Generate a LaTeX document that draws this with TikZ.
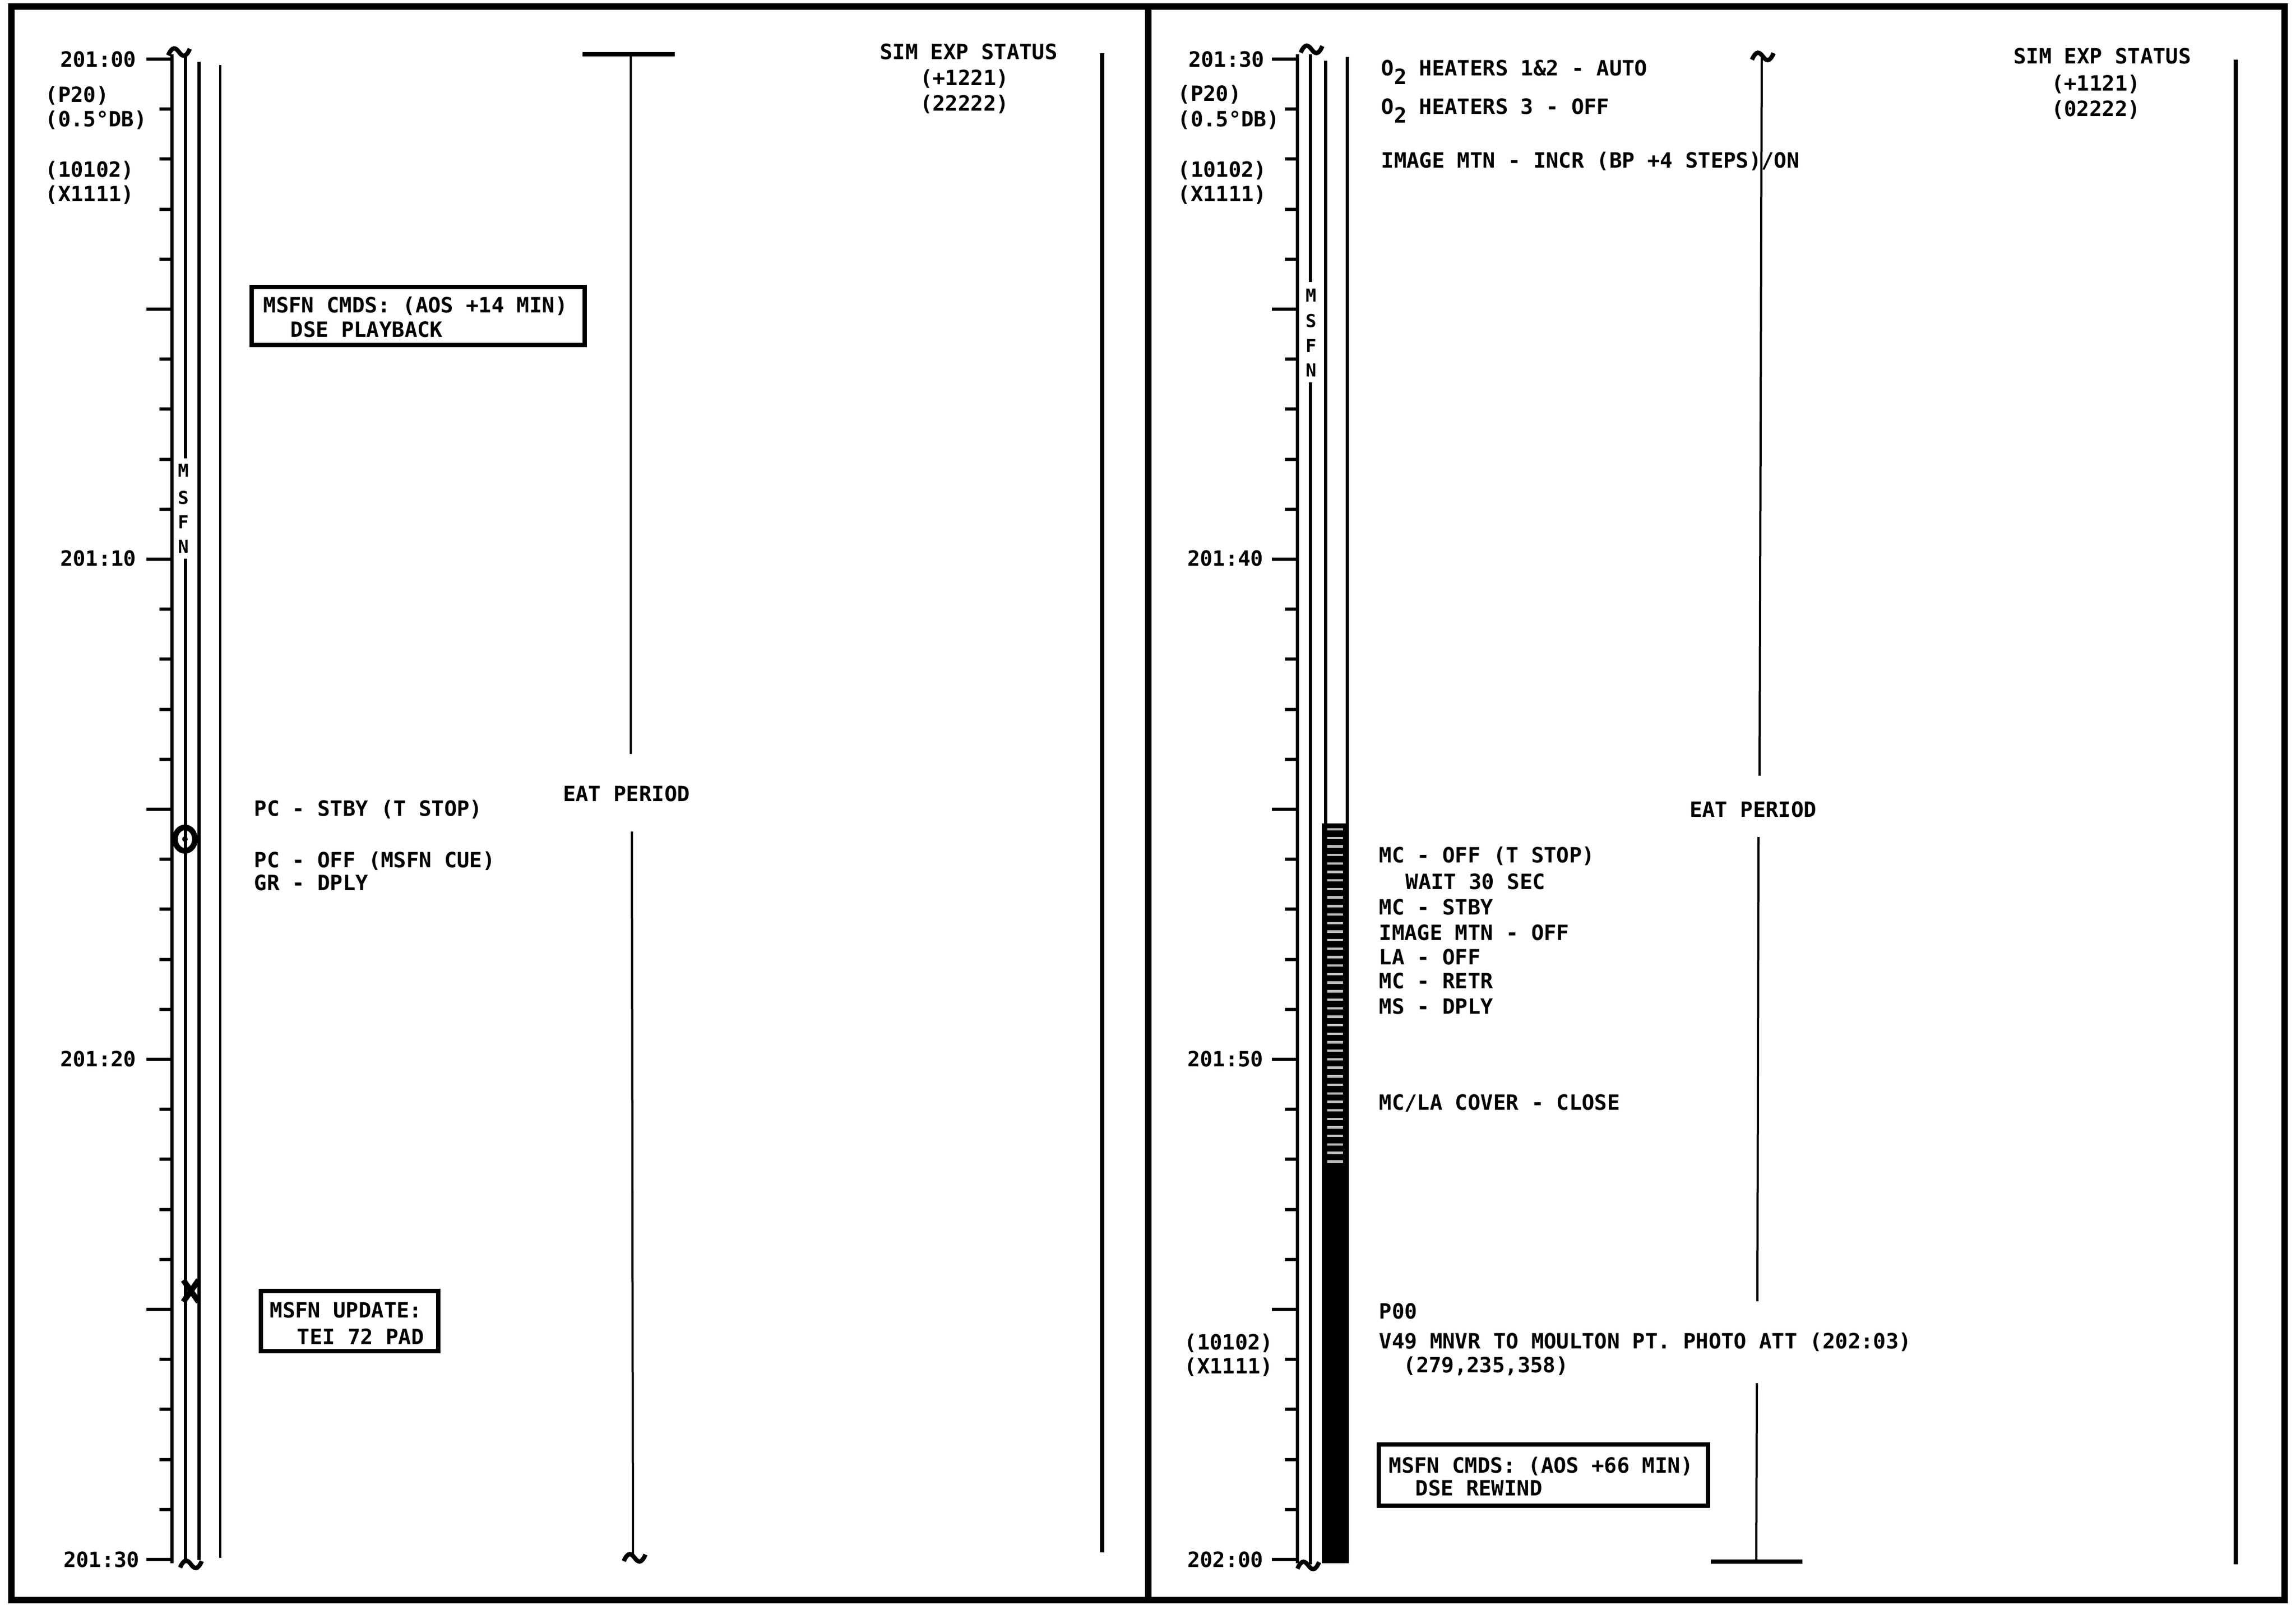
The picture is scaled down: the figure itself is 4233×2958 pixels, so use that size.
\documentclass[tikz,border=0pt]{standalone}
\usepackage{fontspec}
\newfontfamily\tlfont{DejaVu Sans Mono}
\begin{document}
\begin{tikzpicture}[x=0.25pt,y=-0.25pt,
  txt/.style={font=\tlfont\bfseries\fontsize{9.7}{11}\selectfont, inner sep=0pt, anchor=base west},
  txtr/.style={txt, anchor=base east},
  txtc/.style={txt, anchor=base},
  sml/.style={font=\tlfont\bfseries\fontsize{8.2}{8}\selectfont, inner sep=0pt, anchor=center},
  tline/.style={line width=1.5pt},
  thinl/.style={line width=1pt},
  tickl/.style={line width=1.5pt},
  boxl/.style={line width=2pt},
  framel/.style={line width=3pt},
  brk/.pic={\draw[line width=2pt] (-20,6) .. controls (-12,-12) and (-6,-8) .. (0,0) .. controls (6,8) and (12,12) .. (20,-6);}
]
\useasboundingbox (0,0) rectangle (4233,2958);
\fill[white] (0,0) rectangle (4233,2958);
% frame
\draw[framel] (21,12) rectangle (4212,2950);
\draw[framel] (2117,12) -- (2117,2950);

% ---------------- LEFT PANEL ----------------
% ticks
\foreach \k in {0,...,30}{
  \pgfmathsetmacro\yy{109+92.2*\k}
  \pgfmathsetmacro\xs{mod(\k,5)==0 ? 270 : 294}
  \draw[tickl] (\xs,\yy) -- (317,\yy);
}
\draw[tline] (317,100) -- (317,2882);
\draw[tline] (342,100) -- (342,845) (342,1030) -- (342,2882);
\draw[tline] (367,114) -- (367,2876);
\draw[thinl] (406,120) -- (406,2872);
\pic at (330,96) {brk};
\pic at (352,2884) {brk};
\node[sml] (lm1) at (338,868) {M};
\node[sml] (lm2) at (338,918) {S};
\node[sml] (lm3) at (338,963) {F};
\node[sml] (lm4) at (338,1008) {N};
% circle and cross marks
\draw[line width=2.6pt] (341,1547) ellipse [x radius=4.6pt, y radius=5.4pt];
\fill (341,1547) circle [radius=1.3pt];
\draw[line width=2.6pt] (338,2360) -- (366,2400) (366,2360) -- (338,2400);
% time labels
\node[txtr] (t1) at (252,123) {201:00};
\node[txtr] (t2) at (252,1043) {201:10};
\node[txtr] (t3) at (252,1966) {201:20};
\node[txtr] (t4) at (258,2889) {201:30};
\node[txt] (p1) at (83,188) {(P20)};
\node[txt] (p2) at (83,233) {(0.5°DB)};
\node[txt] (p3) at (83,326) {(10102)};
\node[txt] (p4) at (83,371) {(X1111)};
% box 1
\draw[boxl] (464,529) rectangle (1078,636);
\node[txt] (c1a) at (485,576) {MSFN CMDS: (AOS +14 MIN)};
\node[txt] (c1b) at (535,621) {DSE PLAYBACK};
% PC texts
\node[txt] (pc1) at (468,1504) {PC - STBY (T STOP)};
\node[txt] (pc2) at (468,1599) {PC - OFF (MSFN CUE)};
\node[txt] (gr1) at (468,1641) {GR - DPLY};
% update box
\draw[boxl] (481,2380) rectangle (808,2491);
\node[txt] (u1) at (497,2429) {MSFN UPDATE:};
\node[txt] (u2) at (547,2478) {TEI 72 PAD};
% eat period left
\draw[line width=2pt] (1074,100) -- (1244,100);
\draw[thinl] (1163,100) -- (1163,1390) (1165,1533) -- (1167,2872);
\pic at (1170,2872) {brk};
\node[txtc] (eat1) at (1155,1477) {EAT PERIOD};
% sim exp status left
\node[txtc] (s1a) at (1786,109) {SIM EXP STATUS};
\node[txtc] (s1b) at (1778,157) {(+1221)};
\node[txtc] (s1c) at (1778,204) {(22222)};
\draw[line width=1.8pt] (2032,98) -- (2032,2862);

% ---------------- RIGHT PANEL ----------------
\foreach \k in {0,...,30}{
  \pgfmathsetmacro\yy{109+92.2*\k}
  \pgfmathsetmacro\xs{mod(\k,5)==0 ? 2345 : 2369}
  \draw[tickl] (\xs,\yy) -- (2392,\yy);
}
% hatched / solid bar
\fill (2437,1518) rectangle (2484,2882);
\foreach \j in {0,...,39}{
  \pgfmathsetmacro\sy{1529+15.7*\j}
  \draw[white!75!black, line width=1.1pt] (2446,\sy) -- (2476,\sy);
}
\draw[tline] (2392,100) -- (2392,2882);
\draw[tline] (2416,100) -- (2416,520) (2416,705) -- (2416,2884);
\draw[tline] (2444,112) -- (2444,2882);
\draw[tline] (2484,105) -- (2484,2882);
\pic at (2418,91) {brk};
\pic at (2412,2886) {brk};
\node[sml] (rm1) at (2417,545) {M};
\node[sml] (rm2) at (2417,592) {S};
\node[sml] (rm3) at (2417,638) {F};
\node[sml] (rm4) at (2417,683) {N};
% time labels
\node[txtr] (r1) at (2332,123) {201:30};
\node[txtr] (r2) at (2330,1043) {201:40};
\node[txtr] (r3) at (2330,1966) {201:50};
\node[txtr] (r4) at (2330,2889) {202:00};
\node[txt] (q1) at (2171,186) {(P20)};
\node[txt] (q2) at (2171,233) {(0.5°DB)};
\node[txt] (q3) at (2171,326) {(10102)};
\node[txt] (q4) at (2171,371) {(X1111)};
\node[txt] (q5) at (2183,2488) {(10102)};
\node[txt] (q6) at (2183,2532) {(X1111)};
% top texts
\node[txt] (h1) at (2546,139) {O\raisebox{-0.42em}{2} HEATERS 1\&2 - AUTO};
\node[txt] (h2) at (2546,210) {O\raisebox{-0.42em}{2} HEATERS 3 - OFF};
\node[txt] (im1) at (2546,309) {IMAGE MTN - INCR (BP +4 STEPS)/ON};
% MC block
\node[txt] (mc1) at (2542,1590) {MC - OFF (T STOP)};
\node[txt] (mc2) at (2591,1639) {WAIT 30 SEC};
\node[txt] (mc3) at (2542,1686) {MC - STBY};
\node[txt] (mc4) at (2542,1733) {IMAGE MTN - OFF};
\node[txt] (mc5) at (2542,1778) {LA - OFF};
\node[txt] (mc6) at (2542,1822) {MC - RETR};
\node[txt] (mc7) at (2542,1869) {MS - DPLY};
\node[txt] (mc8) at (2542,2046) {MC/LA COVER - CLOSE};
% P00 block
\node[txt] (v1) at (2542,2431) {P00};
\node[txt] (v2) at (2542,2486) {V49 MNVR TO MOULTON PT. PHOTO ATT (202:03)};
\node[txt] (v3) at (2587,2530) {(279,235,358)};
% box rewind
\draw[boxl] (2542,2663) rectangle (3149,2776);
\node[txt] (c2a) at (2560,2715) {MSFN CMDS: (AOS +66 MIN)};
\node[txt] (c2b) at (2609,2757) {DSE REWIND};
% eat period right
\pic at (3250,104) {brk};
\draw[thinl] (3248,104) -- (3244,1430) (3242,1543) -- (3240,2399) (3239,2550) -- (3238,2879);
\draw[line width=2pt] (3154,2879) -- (3323,2879);
\node[txtc] (eat2) at (3232,1506) {EAT PERIOD};
% sim exp status right
\node[txtc] (s2a) at (3876,117) {SIM EXP STATUS};
\node[txtc] (s2b) at (3864,167) {(+1121)};
\node[txtc] (s2c) at (3864,214) {(02222)};
\draw[line width=1.8pt] (4122,110) -- (4122,2884);
\end{tikzpicture}
\end{document}
